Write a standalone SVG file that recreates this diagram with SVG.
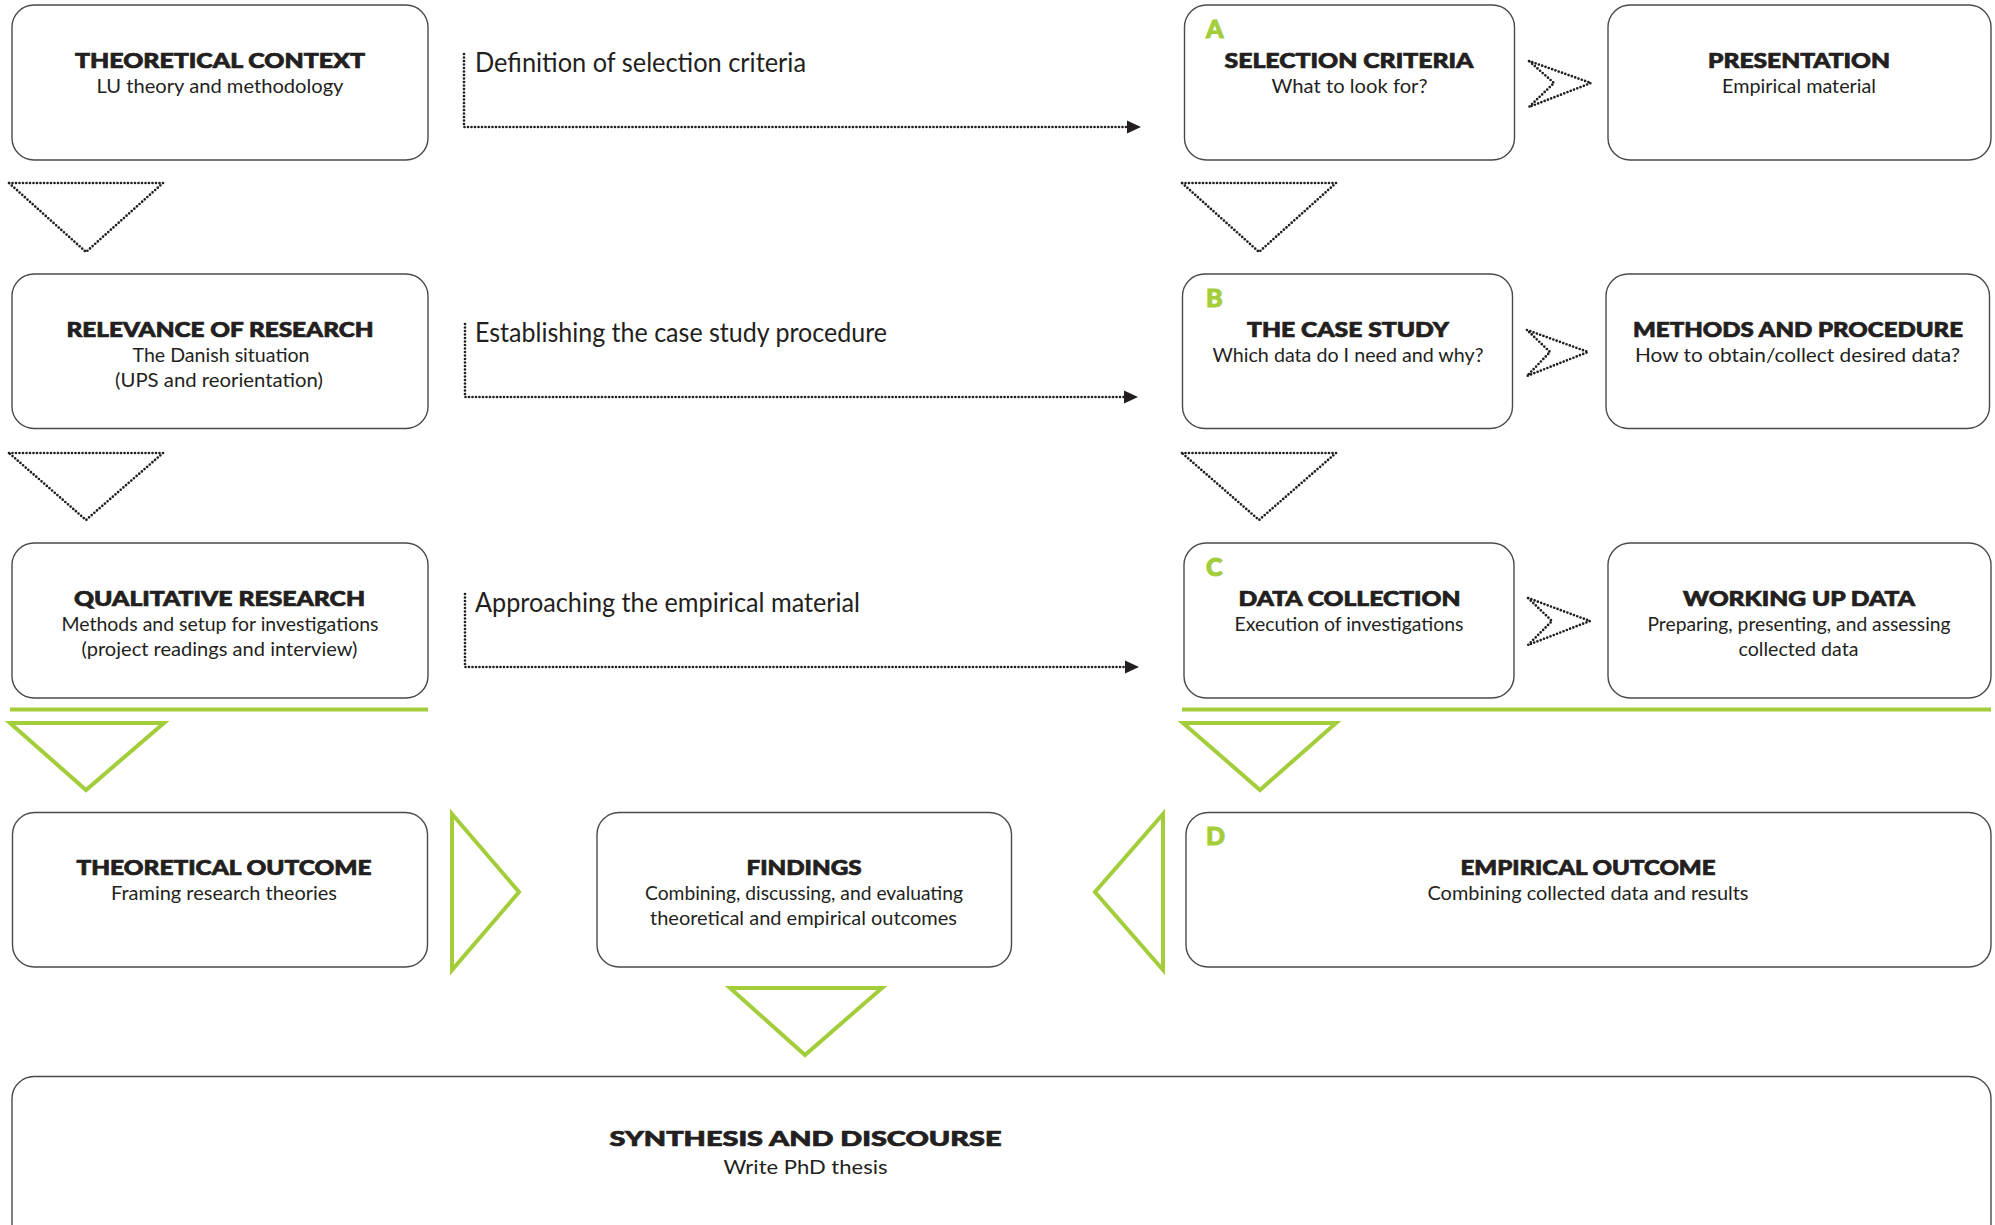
<svg xmlns="http://www.w3.org/2000/svg" width="1995" height="1225" viewBox="0 0 1995 1225">
<style>
.box{fill:#fff;stroke:#4a4a4a;stroke-width:1.4}
.t{font-family:Lato,"Open Sans","Liberation Sans",sans-serif;font-weight:900;font-size:20px;fill:#231f20;stroke:#231f20;stroke-width:0.7;text-anchor:middle}
.s{font-family:Lato,"Open Sans","Liberation Sans",sans-serif;font-weight:400;font-size:19px;fill:#231f20;text-anchor:middle}
.lbl{font-family:Lato,"Open Sans","Liberation Sans",sans-serif;font-weight:400;font-size:26px;fill:#231f20}
.ltr{font-family:Lato,"Open Sans","Liberation Sans",sans-serif;font-weight:900;font-size:25px;fill:#a3cd3a;stroke:#a3cd3a;stroke-width:1}
.dot{fill:none;stroke:#231f20;stroke-width:2.7;stroke-linecap:round;stroke-linejoin:round;stroke-dasharray:0 3.5}
.g{fill:none;stroke:#a3cd3a;stroke-width:4;stroke-linejoin:miter}
</style>
<defs>
<marker id="ah" markerUnits="userSpaceOnUse" markerWidth="16" markerHeight="16" refX="1" refY="8" orient="auto">
<path d="M0,1.5 L14,8 L0,14.5 Z" fill="#231f20"/>
</marker>
</defs>
<rect width="1995" height="1225" fill="#fff"/>

<g id="connectors">
<path class="dot" d="M464,54 V127 H1128" marker-end="url(#ah)"/>
<path class="dot" d="M465,324 V397 H1125" marker-end="url(#ah)"/>
<path class="dot" d="M465,594 V667 H1126" marker-end="url(#ah)"/>
<polygon class="dot" points="1529,61 1591,83 1529,107 1554,83"/>
<polygon class="dot" points="1527,330 1588,352 1527,376 1550,352"/>
<polygon class="dot" points="1528,598 1590,621 1528,645 1552,621"/>
<polygon class="dot" points="9,183 163,183 86,252"/>
<polygon class="dot" points="1182,183 1336,183 1259,252"/>
<polygon class="dot" points="9,453 163,453 86,520"/>
<polygon class="dot" points="1182,453 1336,453 1259,520"/>
<line class="g" x1="10" y1="709.5" x2="428" y2="709.5"/>
<line class="g" x1="1182" y1="709.5" x2="1991" y2="709.5"/>
<polygon class="g" points="10,723 164,723 86,790"/>
<polygon class="g" points="1183,723 1336,723 1260,790"/>
<polygon class="g" stroke-width="3.5" points="452,814 519,892 452,970"/>
<polygon class="g" stroke-width="3.5" points="1163,814 1095,892 1163,970"/>
<polygon class="g" points="730,988 882,988 805,1055"/>
<text class="lbl" x="475" y="72" textLength="331" lengthAdjust="spacingAndGlyphs">Definition of selection criteria</text>
<text class="lbl" x="475" y="342" textLength="412" lengthAdjust="spacingAndGlyphs">Establishing the case study procedure</text>
<text class="lbl" x="475" y="612" textLength="385" lengthAdjust="spacingAndGlyphs">Approaching the empirical material</text>
</g>

<g id="theoretical-context">
<rect class="box" x="12" y="5" width="416" height="155" rx="22"/>
<text class="t" x="220" y="68" textLength="290" lengthAdjust="spacingAndGlyphs">THEORETICAL CONTEXT</text>
<text class="s" x="220" y="93" textLength="247" lengthAdjust="spacingAndGlyphs">LU theory and methodology</text>
</g>

<g id="selection-criteria">
<rect class="box" x="1184.5" y="5" width="330" height="155" rx="22"/>
<text class="ltr" x="1206" y="38">A</text>
<text class="t" x="1349" y="68" textLength="249" lengthAdjust="spacingAndGlyphs">SELECTION CRITERIA</text>
<text class="s" x="1349.5" y="93" textLength="156" lengthAdjust="spacingAndGlyphs">What to look for?</text>
</g>

<g id="presentation">
<rect class="box" x="1608" y="5" width="383" height="155" rx="22"/>
<text class="t" x="1799" y="68" textLength="182" lengthAdjust="spacingAndGlyphs">PRESENTATION</text>
<text class="s" x="1799" y="93" textLength="154" lengthAdjust="spacingAndGlyphs">Empirical material</text>
</g>

<g id="relevance-of-research">
<rect class="box" x="12" y="274" width="416" height="154.5" rx="22"/>
<text class="t" x="220" y="337" textLength="307" lengthAdjust="spacingAndGlyphs">RELEVANCE OF RESEARCH</text>
<text class="s" x="221" y="362" textLength="177" lengthAdjust="spacingAndGlyphs">The Danish situation</text>
<text class="s" x="219" y="387" textLength="208" lengthAdjust="spacingAndGlyphs">(UPS and reorientation)</text>
</g>

<g id="case-study">
<rect class="box" x="1182.5" y="274" width="330" height="154.5" rx="22"/>
<text class="ltr" x="1206" y="307">B</text>
<text class="t" x="1348" y="337" textLength="202" lengthAdjust="spacingAndGlyphs">THE CASE STUDY</text>
<text class="s" x="1348" y="362" textLength="271" lengthAdjust="spacingAndGlyphs">Which data do I need and why?</text>
</g>

<g id="methods-and-procedure">
<rect class="box" x="1606" y="274" width="383.5" height="154.5" rx="22"/>
<text class="t" x="1798" y="337" textLength="330" lengthAdjust="spacingAndGlyphs">METHODS AND PROCEDURE</text>
<text class="s" x="1797.5" y="362" textLength="325" lengthAdjust="spacingAndGlyphs">How to obtain/collect desired data?</text>
</g>

<g id="qualitative-research">
<rect class="box" x="12" y="543" width="416" height="155" rx="22"/>
<text class="t" x="219.5" y="606" textLength="291" lengthAdjust="spacingAndGlyphs">QUALITATIVE RESEARCH</text>
<text class="s" x="220" y="631" textLength="317" lengthAdjust="spacingAndGlyphs">Methods and setup for investigations</text>
<text class="s" x="219.5" y="656" textLength="276" lengthAdjust="spacingAndGlyphs">(project readings and interview)</text>
</g>

<g id="data-collection">
<rect class="box" x="1184" y="543" width="330" height="155" rx="22"/>
<text class="ltr" x="1206" y="576">C</text>
<text class="t" x="1349.5" y="606" textLength="222" lengthAdjust="spacingAndGlyphs">DATA COLLECTION</text>
<text class="s" x="1349" y="631" textLength="229" lengthAdjust="spacingAndGlyphs">Execution of investigations</text>
</g>

<g id="working-up-data">
<rect class="box" x="1608" y="543" width="383" height="155" rx="22"/>
<text class="t" x="1799" y="606" textLength="232" lengthAdjust="spacingAndGlyphs">WORKING UP DATA</text>
<text class="s" x="1799" y="631" textLength="303" lengthAdjust="spacingAndGlyphs">Preparing, presenting, and assessing</text>
<text class="s" x="1798.5" y="656" textLength="120" lengthAdjust="spacingAndGlyphs">collected data</text>
</g>

<g id="theoretical-outcome">
<rect class="box" x="12.5" y="812.5" width="415" height="154.5" rx="22"/>
<text class="t" x="224" y="875" textLength="295" lengthAdjust="spacingAndGlyphs">THEORETICAL OUTCOME</text>
<text class="s" x="224" y="900" textLength="226" lengthAdjust="spacingAndGlyphs">Framing research theories</text>
</g>

<g id="findings">
<rect class="box" x="597" y="812.5" width="414.5" height="154.5" rx="22"/>
<text class="t" x="804" y="875" textLength="115" lengthAdjust="spacingAndGlyphs">FINDINGS</text>
<text class="s" x="804" y="900" textLength="318" lengthAdjust="spacingAndGlyphs">Combining, discussing, and evaluating</text>
<text class="s" x="803.5" y="925" textLength="307" lengthAdjust="spacingAndGlyphs">theoretical and empirical outcomes</text>
</g>

<g id="empirical-outcome">
<rect class="box" x="1186" y="812.5" width="805" height="154.5" rx="22"/>
<text class="ltr" x="1206" y="845">D</text>
<text class="t" x="1588" y="875" textLength="255" lengthAdjust="spacingAndGlyphs">EMPIRICAL OUTCOME</text>
<text class="s" x="1588" y="900" textLength="321" lengthAdjust="spacingAndGlyphs">Combining collected data and results</text>
</g>

<g id="synthesis-and-discourse">
<rect class="box" x="12" y="1076.5" width="1979" height="220" rx="22"/>
<text class="t" x="805.5" y="1146" font-size="24.5" textLength="392" lengthAdjust="spacingAndGlyphs">SYNTHESIS AND DISCOURSE</text>
<text class="s" x="805.5" y="1174" font-size="22" textLength="164" lengthAdjust="spacingAndGlyphs">Write PhD thesis</text>
</g>
</svg>
